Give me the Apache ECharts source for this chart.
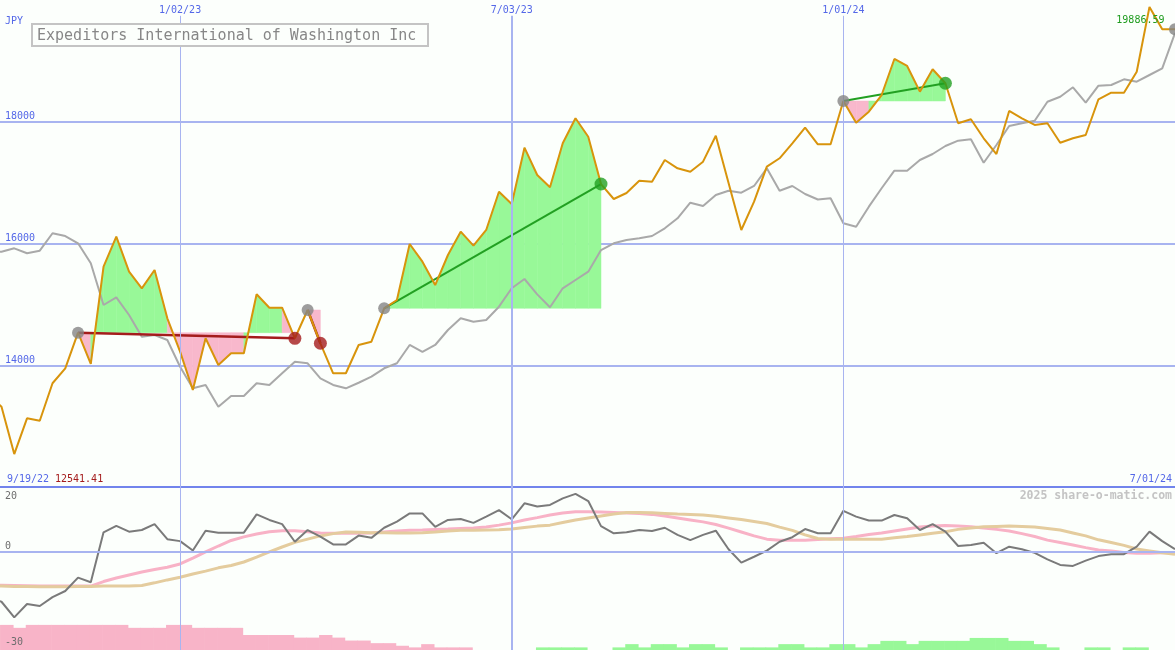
<!DOCTYPE html>
<html><head><meta charset="utf-8">
<script src="https://cdn.jsdelivr.net/npm/echarts@6/dist/echarts.min.js"></script>
<style>html,body{margin:0;padding:0;background:#fcfffc}#c{width:1175px;height:650px}</style>
</head><body><div id="c"></div>
<script>
// ---------- data (weekly, index 0 = 9/19/22) ----------
const chartTitle = 'Expeditors International of Washington Inc';
const currency = 'JPY';
const firstDate = '9/19/22';
const lastDate = '7/01/24';
const copyright = '2025 share-o-matic.com';
const xTickWeeks = [15, 41, 67];
const xTickLabels = ['1/02/23', '7/03/23', '1/01/24'];
const priceTicks = [14000, 16000, 18000];
const momentumTicks = [20, 0, -30];

const price = [13500, 13319, 12541.41, 13128, 13089, 13704, 13950, 14535, 14021, 15619,
  16112, 15537, 15264, 15565, 14771, 14223, 13593, 14443, 14004, 14196,
  14196, 15166, 14945, 14945, 14443, 14908, 14361, 13868, 13868, 14333,
  14387, 14935, 15072, 15992, 15701, 15318, 15811, 16194, 15964, 16222,
  16851, 16649, 17574, 17125, 16923, 17646, 18057, 17754, 16977, 16731,
  16830, 17032, 17015, 17372, 17235, 17180, 17344, 17771, 16994, 16222,
  16687, 17262, 17400, 17646, 17902, 17630, 17630, 18341, 17984, 18165,
  18439, 19031, 18916, 18494, 18862, 18632, 17975, 18040, 17728, 17470,
  18177, 18057, 17947, 17975, 17656, 17728, 17782, 18369, 18477, 18477,
  18822, 19886.59, 19519, 19519];

const benchmark = [15860, 15865, 15921, 15839, 15882, 16168, 16123, 16003, 15675, 14990,
  15116, 14825, 14469, 14497, 14415, 13976, 13621, 13676, 13319, 13495,
  13495, 13704, 13676, 13868, 14058, 14032, 13785, 13676, 13621, 13713,
  13812, 13950, 14032, 14333, 14218, 14333, 14579, 14771, 14715, 14743,
  14962, 15264, 15417, 15165, 14952, 15264, 15400, 15537, 15893, 16003,
  16058, 16085, 16123, 16250, 16414, 16670, 16616, 16797, 16867, 16834,
  16945, 17235, 16867, 16945, 16813, 16723, 16743, 16332, 16276, 16605,
  16907, 17196, 17196, 17372, 17470, 17602, 17689, 17712, 17327, 17618,
  17930, 17975, 18017, 18329, 18411, 18566, 18313, 18592, 18604, 18697,
  18658, 18768, 18878, 19458];

const momentum = [-14, -15.2, -20.0, -15.9, -16.5, -13.8, -11.9, -7.8, -9.2, 6.1,
  8.1, 6.3, 6.8, 8.6, 4.0, 3.4, 0.5, 6.6, 6.0, 6.0,
  6.0, 11.6, 9.9, 8.6, 3.2, 6.8, 4.8, 2.4, 2.4, 5.1,
  4.4, 7.5, 9.4, 11.9, 11.9, 7.8, 9.9, 10.2, 9.0, 10.9,
  12.9, 10.1, 15.0, 14.0, 14.5, 16.5, 17.9, 15.7, 8.0, 5.8,
  6.1, 6.8, 6.5, 7.5, 5.3, 3.7, 5.3, 6.6, 0.9, -3.2,
  -1.4, 0.5, 3.2, 4.6, 7.1, 5.8, 5.8, 12.7, 10.9, 9.7,
  9.7, 11.4, 10.4, 6.8, 8.6, 6.3, 1.9, 2.2, 2.9, -0.3,
  1.7, 0.9, -0.2, -2.2, -3.9, -4.2, -2.6, -1.2, -0.6, -0.6,
  1.7, 6.3, 3.4, 0.9];

const signalFast = [-10.1, -10.1, -10.2, -10.3, -10.4, -10.4, -10.4, -10.4, -10.4, -9.0,
  -7.9, -7.0, -6.1, -5.3, -4.6, -3.6, -1.8, 0.1, 1.9, 3.6,
  4.7, 5.6, 6.3, 6.6, 6.6, 6.3, 5.9, 5.8, 5.8, 5.8,
  5.9, 6.2, 6.5, 6.7, 6.8, 7.0, 7.1, 7.3, 7.4, 7.7,
  8.3, 9.0, 9.9, 10.6, 11.4, 12.0, 12.4, 12.4, 12.3, 12.2,
  12.0, 11.9, 11.6, 11.1, 10.5, 9.9, 9.3, 8.5, 7.4, 6.2,
  5.0, 4.0, 3.7, 3.7, 3.7, 3.9, 4.1, 4.3, 4.8, 5.4,
  5.9, 6.5, 7.1, 7.7, 8.0, 8.2, 8.0, 7.8, 7.4, 7.0,
  6.5, 5.7, 4.8, 3.7, 3.0, 2.2, 1.4, 0.7, 0.4, -0.1,
  -0.3, -0.3, -0.2, -0.2];

const signalSlow = [-10.4, -10.4, -10.5, -10.5, -10.6, -10.6, -10.6, -10.5, -10.5, -10.4,
  -10.4, -10.4, -10.2, -9.4, -8.5, -7.7, -6.7, -5.8, -4.8, -4.1,
  -3.0, -1.5, 0.1, 1.6, 3.0, 4.0, 5.0, 5.7, 6.2, 6.1,
  6.0, 6.0, 5.9, 5.9, 6.0, 6.2, 6.5, 6.7, 6.7, 6.8,
  6.9, 7.1, 7.6, 8.0, 8.3, 9.1, 9.9, 10.5, 11.1, 11.7,
  12.2, 12.2, 12.1, 11.9, 11.7, 11.6, 11.4, 11.0, 10.5, 10.0,
  9.4, 8.8, 7.7, 6.7, 5.3, 4.2, 4.0, 4.0, 4.0, 4.0,
  4.0, 4.4, 4.8, 5.3, 5.8, 6.3, 7.0, 7.4, 7.8, 7.9,
  8.0, 7.9, 7.7, 7.3, 6.8, 5.9, 5.0, 3.8, 3.0, 2.1,
  1.0, 0.4, -0.2, -0.6];

const histogram = [-7.7, -7.7, -6.8, -7.7, -7.7, -7.7, -7.7, -7.7, -7.7, -7.7,
  -7.7, -6.8, -6.8, -6.8, -7.7, -7.7, -6.8, -6.8, -6.8, -6.8,
  -4.6, -4.6, -4.6, -4.6, -3.8, -3.8, -4.6, -3.8, -2.9, -2.9,
  -2.1, -2.1, -1.3, -0.8, -1.8, -0.8, -0.8, -0.8, 0, 0,
  0, 0, 0, 0.8, 0.8, 0.8, 0.8, 0, 0, 0.8,
  1.8, 0.8, 1.8, 1.8, 0.8, 1.8, 1.8, 0.8, 0, 0.8,
  0.8, 0.8, 1.8, 1.8, 0.8, 0.8, 1.8, 1.8, 0.8, 1.8,
  2.8, 2.8, 1.8, 2.8, 2.8, 2.8, 2.8, 3.7, 3.7, 3.7,
  2.8, 2.8, 1.8, 0.8, 0, 0, 0.8, 0.8, 0, 0.8,
  0.8, 0, 0, 0];

const tradeEntries = [7, 25, 31, 67];
const tradeExits = [24, 26, 48, 75];
const openEntries = [93];

// ---------- chart ----------
const MONO = "'DejaVu Sans Mono', monospace";
const BLUE = '#5468e8';
const GRID = '#a8b4f0';
const GREEN_FILL = '#98f898';
const PINK_FILL = '#f8b8cc';

const pts = arr => arr.map((v, i) => [i, v]);

const fillItems = [];
tradeEntries.forEach((e, t) => {
  const base = price[e];
  for (let i = e; i < tradeExits[t]; i++) {
    fillItems.push([i, price[i], price[i + 1], base, price[i + 1] >= base ? 1 : 0]);
  }
});

const trendSeries = tradeEntries.map((e, t) => {
  const x = tradeExits[t];
  const win = price[x] >= price[e];
  return {
    type: 'line', xAxisIndex: 0, yAxisIndex: 0, z: 2.5,
    data: [[e, price[e]], [x, price[x]]],
    showSymbol: false, silent: true,
    lineStyle: { color: win ? '#22a022' : '#a41c1c', width: win ? 2 : 2.5 }
  };
});

const entryDots = tradeEntries.concat(openEntries).map(e => [e, price[e]]);
const lossDots = [], winDots = [];
tradeEntries.forEach((e, t) => {
  const x = tradeExits[t];
  (price[x] >= price[e] ? winDots : lossDots).push([x, price[x]]);
});

const xMin = 0.882, xMax = 93;

const option = {
  animation: false,
  backgroundColor: '#fcfffc',
  title: {
    text: chartTitle, left: 32, top: 24, padding: [3, 12, 1, 5],
    borderColor: '#c4c4c4', borderWidth: 2, backgroundColor: '#fcfffc',
    textStyle: { fontFamily: MONO, fontSize: 15, fontWeight: 'normal', color: '#878787', lineHeight: 18 }
  },
  grid: [
    { left: 0, right: 0, top: 0, height: 487 },
    { left: 0, right: 0, top: 487, height: 163 }
  ],
  xAxis: [
    { gridIndex: 0, type: 'value', min: xMin, max: xMax, show: false },
    { gridIndex: 1, type: 'value', min: xMin, max: xMax, position: 'top',
      axisLine: { show: true, onZero: false, lineStyle: { color: '#7284ec', width: 2 } },
      axisTick: { show: false }, axisLabel: { show: false }, splitLine: { show: false } }
  ],
  yAxis: [
    { gridIndex: 0, type: 'value', min: 12000, max: 20000, interval: 2000,
      axisLine: { show: false }, axisTick: { show: false },
      splitLine: { show: true, showMinLine: false, showMaxLine: false, lineStyle: { color: GRID, width: 2 } },
      axisLabel: { inside: true, margin: 5, verticalAlign: 'bottom', color: BLUE, fontFamily: MONO, fontSize: 10,
        formatter: v => priceTicks.includes(v) ? String(v) : '' } },
    { gridIndex: 1, type: 'value', min: -30, max: 20, interval: 10,
      axisLine: { show: false }, axisTick: { show: false }, axisLabel: { show: false },
      splitLine: { show: false } }
  ],
  series: [
    { type: 'custom', xAxisIndex: 0, yAxisIndex: 0, z: 1, silent: true,
      data: fillItems, encode: { x: 0, y: 1 },
      renderItem: (params, api) => {
        const i = api.value(0), a = api.value(1), b = api.value(2), base = api.value(3), up = api.value(4);
        const b0 = api.coord([i, base]), p0 = api.coord([i, a]);
        const p1 = api.coord([i + 1, b]), b1 = api.coord([i + 1, base]);
        const c = up ? GREEN_FILL : PINK_FILL;
        return { type: 'polygon', shape: { points: [b0, p0, p1, b1] },
          style: { fill: c, stroke: c, lineWidth: 0.5 } };
      } },
    { type: 'line', xAxisIndex: 0, yAxisIndex: 0, z: 2, data: pts(benchmark),
      showSymbol: false, silent: true, lineStyle: { color: '#a9a9a9', width: 2 },
      markLine: {
        silent: true, symbol: ['none', 'none'], animation: false,
        label: { show: true, position: 'start', distance: 0, formatter: '{b}', color: BLUE, fontFamily: MONO, fontSize: 10 },
        lineStyle: { color: GRID, type: 'solid', width: 1 },
        data: xTickWeeks.map((k, i) => [
          { coord: [k, 19740], name: xTickLabels[i], lineStyle: { color: GRID, type: 'solid', width: i === 1 ? 2 : 1 } },
          { coord: [k, 12000] }
        ])
      } },
    ...trendSeries,
    { type: 'line', xAxisIndex: 0, yAxisIndex: 0, z: 3, data: pts(price),
      showSymbol: false, silent: true, lineStyle: { color: '#d8940c', width: 2 } },
    { type: 'scatter', xAxisIndex: 0, yAxisIndex: 0, z: 5, data: entryDots, symbolSize: 12, silent: true,
      itemStyle: { color: '#858585' } },
    { type: 'scatter', xAxisIndex: 0, yAxisIndex: 0, z: 5, data: lossDots, symbolSize: 13, silent: true,
      itemStyle: { color: '#a41c1c' } },
    { type: 'scatter', xAxisIndex: 0, yAxisIndex: 0, z: 5, data: winDots, symbolSize: 13, silent: true,
      itemStyle: { color: '#22a022' } },
    // bottom panel
    { type: 'custom', xAxisIndex: 1, yAxisIndex: 1, z: 1, silent: true,
      data: pts(histogram), encode: { x: 0, y: 1 },
      renderItem: (params, api) => {
        const k = api.value(0), h = api.value(1);
        if (!h) return null;
        const a = api.coord([k - 0.1, -30]), b = api.coord([k + 0.9, -30 + Math.abs(h)]);
        return { type: 'rect', shape: { x: a[0], y: b[1], width: b[0] - a[0] + 0.6, height: a[1] - b[1] + 2 },
          style: { fill: h < 0 ? '#f8b4c8' : '#98f898' } };
      },
      markLine: {
        silent: true, symbol: ['none', 'none'], animation: false, label: { show: false },
        data: xTickWeeks.map((k, i) => [
          { coord: [k, 20], lineStyle: { color: GRID, type: 'solid', width: i === 1 ? 2 : 1 } },
          { coord: [k, -30] }
        ]).concat([{ yAxis: 0, lineStyle: { color: GRID, type: 'solid', width: 2 } }])
      } },
    { type: 'line', xAxisIndex: 1, yAxisIndex: 1, z: 2, data: pts(signalFast),
      showSymbol: false, silent: true, lineStyle: { color: '#f8b2c6', width: 3 } },
    { type: 'line', xAxisIndex: 1, yAxisIndex: 1, z: 3, data: pts(signalSlow),
      showSymbol: false, silent: true, lineStyle: { color: '#e4cc9e', width: 3 } },
    { type: 'line', xAxisIndex: 1, yAxisIndex: 1, z: 4, data: pts(momentum),
      showSymbol: false, silent: true, lineStyle: { color: '#7a7a7a', width: 2 } }
  ]
};

const chart = echarts.init(document.getElementById('c'), null, { renderer: 'canvas' });
chart.setOption(option);

// text labels positioned through the chart scales
let maxIdx = 0, minIdx = 0;
price.forEach((v, i) => { if (v > price[maxIdx]) maxIdx = i; if (v < price[minIdx]) minIdx = i; });
const maxPx = chart.convertToPixel({ gridIndex: 0 }, [maxIdx, price[maxIdx]]);
const lowOffsets = { '20': 9, '0': -6, '-30': -8 };
const txt = (x, y, s, color, align, extra) => ({
  type: 'text', x, y, silent: true, z: 100,
  style: Object.assign({ text: s, fill: color, font: '10px ' + MONO, textAlign: align || 'left', textVerticalAlign: 'middle' }, extra || {})
});
const graphics = [
  txt(5, 21, currency, BLUE),
  txt(7, 479, firstDate, BLUE),
  txt(55, 479, price[minIdx].toFixed(2), '#a41c1c'),
  txt(1172, 479, lastDate, BLUE, 'right'),
  txt(maxPx[0] + 15, maxPx[1] + 14, price[maxIdx].toFixed(2), '#1e9c1e', 'right'),
  txt(1172, 496, copyright, '#c4c4c4', 'right', { font: 'bold 11.5px ' + MONO })
];
momentumTicks.forEach(v => {
  const p = chart.convertToPixel({ gridIndex: 1 }, [xMin, v]);
  graphics.push(txt(5, p[1] + lowOffsets[String(v)], String(v), '#6e6e6e'));
});
chart.setOption({ graphic: graphics });
</script>
</body></html>
